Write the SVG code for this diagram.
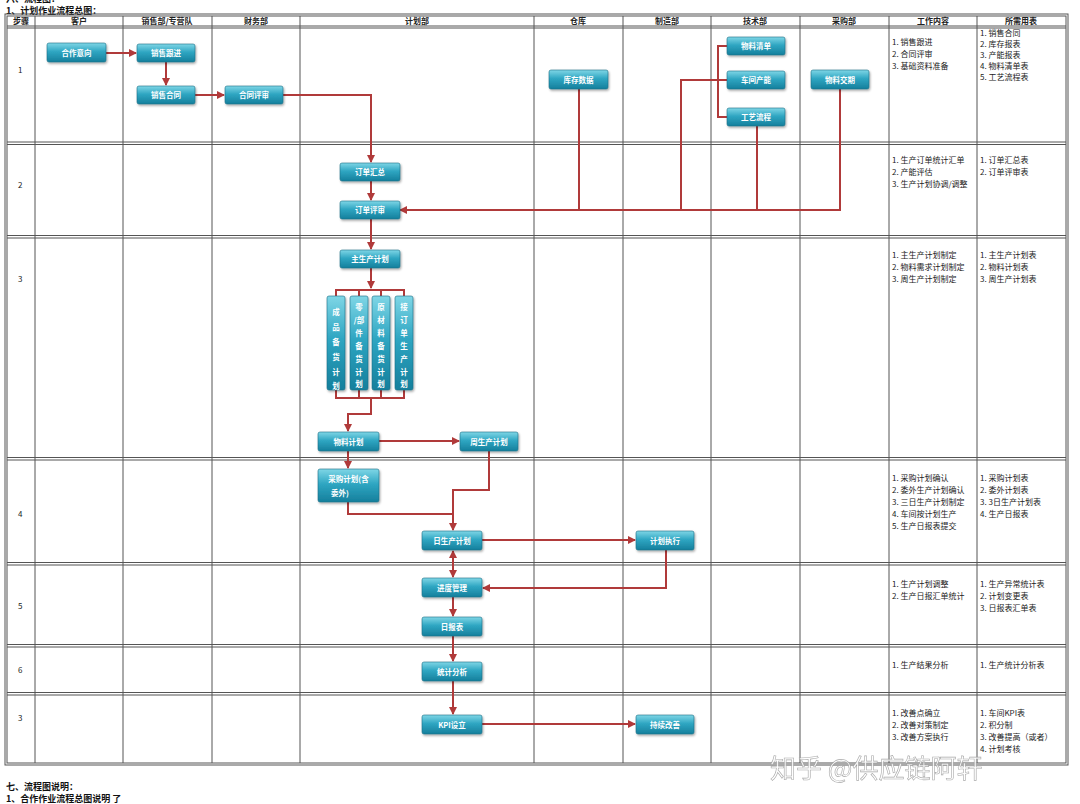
<svg xmlns="http://www.w3.org/2000/svg" width="1080" height="804" viewBox="0 0 1080 804">
<defs>
<linearGradient id="g" x1="0" y1="0" x2="0" y2="1">
<stop offset="0" stop-color="#7fd6e6"/>
<stop offset="0.45" stop-color="#2fa6c2"/>
<stop offset="1" stop-color="#157f9c"/>
</linearGradient>
<marker id="a" markerWidth="8" markerHeight="8" refX="7" refY="4" orient="auto" markerUnits="userSpaceOnUse">
<path d="M0,0 L8,4 L0,8 z" fill="#b03a3a"/>
</marker>
<marker id="as" markerWidth="8" markerHeight="8" refX="7" refY="4" orient="auto-start-reverse" markerUnits="userSpaceOnUse">
<path d="M0,0 L8,4 L0,8 z" fill="#b03a3a"/>
</marker>
<filter id="sh" x="-10%" y="-10%" width="130%" height="140%">
<feDropShadow dx="1" dy="1.5" stdDeviation="1" flood-color="#000" flood-opacity="0.35"/>
</filter>
</defs>
<style>
text{font-family:"Noto Sans CJK SC","Liberation Sans",sans-serif;}
.t{font-size:8px;fill:#222;}
.h{font-size:8px;font-weight:bold;fill:#222;text-anchor:middle;}
.n rect{fill:url(#g);stroke:#1b6f86;stroke-width:0.6;filter:url(#sh);}
.n text{font-size:7.5px;fill:#fff;text-anchor:middle;font-weight:bold;}
.c path,.c line{stroke:#b03a3a;stroke-width:2;fill:none;}
.grid line{stroke:#555;stroke-width:1;}
.ti{font-size:9px;font-weight:bold;fill:#111;}
</style>
<rect width="1080" height="804" fill="#fff"/>
<text class="ti" x="6" y="2" font-size="5">六、流程图：</text>
<text class="ti" x="6" y="13.5" font-size="8.5">1、计划作业流程总图：</text>
<g class="grid">
<rect x="5" y="14" width="1063" height="751" fill="none" stroke="#555" stroke-width="1"/>
<rect x="7" y="16" width="1059" height="747" fill="none" stroke="#555" stroke-width="1"/>
<line x1="35" y1="16" x2="35" y2="763"/>
<line x1="123" y1="16" x2="123" y2="763"/>
<line x1="212" y1="16" x2="212" y2="763"/>
<line x1="300" y1="16" x2="300" y2="763"/>
<line x1="534" y1="16" x2="534" y2="763"/>
<line x1="623" y1="16" x2="623" y2="763"/>
<line x1="711" y1="16" x2="711" y2="763"/>
<line x1="800" y1="16" x2="800" y2="763"/>
<line x1="889" y1="16" x2="889" y2="763"/>
<line x1="977" y1="16" x2="977" y2="763"/>
<line x1="7" y1="26" x2="1066" y2="26"/>
<line x1="7" y1="28" x2="1066" y2="28"/>
<line x1="7" y1="142" x2="1066" y2="142"/>
<line x1="7" y1="144.5" x2="1066" y2="144.5"/>
<line x1="7" y1="235.5" x2="1066" y2="235.5"/>
<line x1="7" y1="238" x2="1066" y2="238"/>
<line x1="7" y1="457.5" x2="1066" y2="457.5"/>
<line x1="7" y1="460" x2="1066" y2="460"/>
<line x1="7" y1="562.5" x2="1066" y2="562.5"/>
<line x1="7" y1="565" x2="1066" y2="565"/>
<line x1="7" y1="644.5" x2="1066" y2="644.5"/>
<line x1="7" y1="647" x2="1066" y2="647"/>
<line x1="7" y1="692.5" x2="1066" y2="692.5"/>
<line x1="7" y1="695" x2="1066" y2="695"/>
</g>
<g id="header">
<text class="h" x="21" y="24">步骤</text>
<text class="h" x="79" y="24">客户</text>
<text class="h" x="167" y="24">销售部/专营队</text>
<text class="h" x="256" y="24">财务部</text>
<text class="h" x="417" y="24">计划部</text>
<text class="h" x="578" y="24">仓库</text>
<text class="h" x="667" y="24">制造部</text>
<text class="h" x="755" y="24">技术部</text>
<text class="h" x="844" y="24">采购部</text>
<text class="h" x="933" y="24">工作内容</text>
<text class="h" x="1021" y="24">所需用表</text>
</g>
<g id="steps" class="t">
<text x="18" y="73">1</text>
<text x="18" y="188">2</text>
<text x="18" y="282">3</text>
<text x="18" y="517">4</text>
<text x="18" y="609">5</text>
<text x="18" y="673">6</text>
<text x="18" y="721">3</text>
</g>
<g class="c" id="connectors">
<line x1="106" y1="53" x2="136" y2="53" marker-end="url(#a)"/>
<line x1="166" y1="62" x2="166" y2="85" marker-end="url(#a)"/>
<line x1="195" y1="95" x2="224" y2="95" marker-end="url(#a)"/>
<path d="M283,95 H371 V162" marker-end="url(#a)"/>
<line x1="371" y1="181" x2="371" y2="200" marker-end="url(#a)"/>
<path d="M579,89 V210"/>
<path d="M727,80 H681 V210"/>
<path d="M727,46 H718 V117 H727"/>
<path d="M757,126 V210"/>
<path d="M840,89 V210 H400" marker-end="url(#a)"/>
<line x1="371" y1="219" x2="371" y2="249" marker-end="url(#a)"/>
<line x1="371" y1="268" x2="371" y2="288" marker-end="url(#a)"/>
<path d="M336,296 V290 H404 V296 M359,290 V296 M381,290 V296"/>
<path d="M336,390 V398 H404 V390 M359,398 V390 M381,398 V390"/>
<path d="M371,398 V414 H348 V431" marker-end="url(#a)"/>
<line x1="379" y1="441" x2="459" y2="441" marker-end="url(#a)"/>
<line x1="348" y1="451" x2="348" y2="468" marker-end="url(#a)"/>
<path d="M489,451 V490 H453 V530" marker-end="url(#a)"/>
<path d="M348,502 V514 H453"/>
<line x1="482" y1="540" x2="635" y2="540" marker-end="url(#a)"/>
<path d="M666,550 V588 H483" marker-end="url(#a)"/>
<line x1="453" y1="551" x2="453" y2="577" marker-start="url(#as)" marker-end="url(#a)"/>
<line x1="453" y1="597" x2="453" y2="616" marker-end="url(#a)"/>
<line x1="453" y1="636" x2="453" y2="661" marker-end="url(#a)"/>
<line x1="453" y1="681" x2="453" y2="714" marker-end="url(#a)"/>
<line x1="482" y1="724" x2="635" y2="724" marker-end="url(#a)"/>
</g>
<g id="n1" class="n"><rect x="47" y="43" width="59" height="19" rx="2"/><text x="76.5" y="55.5">合作意向</text></g>
<g id="n2" class="n"><rect x="137" y="44" width="58" height="18" rx="2"/><text x="166" y="56">销售跟进</text></g>
<g id="n3" class="n"><rect x="137" y="86" width="58" height="18" rx="2"/><text x="166" y="98">销售合同</text></g>
<g id="n4" class="n"><rect x="225" y="86" width="58" height="18" rx="2"/><text x="254" y="98">合同评审</text></g>
<g id="n5" class="n"><rect x="549" y="70" width="59" height="19" rx="2"/><text x="578.5" y="82.5">库存数据</text></g>
<g id="n6" class="n"><rect x="727" y="37" width="58" height="18" rx="2"/><text x="756" y="49">物料清单</text></g>
<g id="n7" class="n"><rect x="727" y="71" width="58" height="18" rx="2"/><text x="756" y="83">车间产能</text></g>
<g id="n8" class="n"><rect x="727" y="108" width="58" height="18" rx="2"/><text x="756" y="120">工艺流程</text></g>
<g id="n9" class="n"><rect x="811" y="70" width="58" height="19" rx="2"/><text x="840" y="82.5">物料交期</text></g>
<g id="n10" class="n"><rect x="340" y="163" width="60" height="18" rx="2"/><text x="370" y="175">订单汇总</text></g>
<g id="n11" class="n"><rect x="340" y="201" width="60" height="18" rx="2"/><text x="370" y="213">订单评审</text></g>
<g id="n12" class="n"><rect x="340" y="250" width="60" height="18" rx="2"/><text x="370" y="262">主生产计划</text></g>
<g id="n13" class="n"><rect x="327" y="296" width="18" height="94" rx="2"/><text x="336" y="315">成</text><text x="336" y="330">品</text><text x="336" y="345">备</text><text x="336" y="360">货</text><text x="336" y="375">计</text><text x="336" y="389">划</text></g>
<g id="n14" class="n"><rect x="350" y="296" width="18" height="94" rx="2"/><text x="359" y="310">零</text><text x="359" y="323">/部</text><text x="359" y="336">件</text><text x="359" y="349">备</text><text x="359" y="362">货</text><text x="359" y="375">计</text><text x="359" y="387">划</text></g>
<g id="n15" class="n"><rect x="372" y="296" width="18" height="94" rx="2"/><text x="381" y="310">原</text><text x="381" y="323">材</text><text x="381" y="336">料</text><text x="381" y="349">备</text><text x="381" y="362">货</text><text x="381" y="375">计</text><text x="381" y="387">划</text></g>
<g id="n16" class="n"><rect x="395" y="296" width="18" height="94" rx="2"/><text x="404" y="310">接</text><text x="404" y="323">订</text><text x="404" y="336">单</text><text x="404" y="349">生</text><text x="404" y="362">产</text><text x="404" y="375">计</text><text x="404" y="387">划</text></g>
<g id="n17" class="n"><rect x="318" y="432" width="61" height="19" rx="2"/><text x="348.5" y="444.5">物料计划</text></g>
<g id="n18" class="n"><rect x="460" y="432" width="58" height="19" rx="2"/><text x="489" y="444.5">周生产计划</text></g>
<g id="n19" class="n"><rect x="318" y="469" width="61" height="33" rx="2"/><text x="348.5" y="482">采购计划(含</text><text x="340" y="496">委外)</text></g>
<g id="n20" class="n"><rect x="422" y="531" width="60" height="19" rx="2"/><text x="452" y="543.5">日生产计划</text></g>
<g id="n21" class="n"><rect x="636" y="531" width="58" height="19" rx="2"/><text x="665" y="543.5">计划执行</text></g>
<g id="n22" class="n"><rect x="422" y="578" width="60" height="19" rx="2"/><text x="452" y="590.5">进度管理</text></g>
<g id="n23" class="n"><rect x="422" y="617" width="60" height="19" rx="2"/><text x="452" y="629.5">日报表</text></g>
<g id="n24" class="n"><rect x="422" y="662" width="60" height="19" rx="2"/><text x="452" y="674.5">统计分析</text></g>
<g id="n25" class="n"><rect x="422" y="715" width="60" height="19" rx="2"/><text x="452" y="727.5">KPI设立</text></g>
<g id="n26" class="n"><rect x="636" y="715" width="58" height="19" rx="2"/><text x="665" y="727.5">持续改善</text></g>
<g id="work" class="t">
<text x="892" y="45">1. 销售跟进</text><text x="892" y="57">2. 合同评审</text><text x="892" y="69">3. 基础资料准备</text>
<text x="980" y="36">1. 销售合同</text><text x="980" y="47">2. 库存报表</text><text x="980" y="58">3. 产能报表</text><text x="980" y="69">4. 物料清单表</text><text x="980" y="80">5. 工艺流程表</text>
<text x="892" y="163">1. 生产订单统计汇单</text><text x="892" y="175">2. 产能评估</text><text x="892" y="187">3. 生产计划协调/调整</text>
<text x="980" y="163">1. 订单汇总表</text><text x="980" y="175">2. 订单评审表</text>
<text x="892" y="258">1. 主生产计划制定</text><text x="892" y="270">2. 物料需求计划制定</text><text x="892" y="282">3. 周生产计划制定</text>
<text x="980" y="258">1. 主生产计划表</text><text x="980" y="270">2. 物料计划表</text><text x="980" y="282">3. 周生产计划表</text>
<text x="892" y="481">1. 采购计划确认</text><text x="892" y="493">2. 委外生产计划确认</text><text x="892" y="505">3. 三日生产计划制定</text><text x="892" y="517">4. 车间按计划生产</text><text x="892" y="529">5. 生产日报表提交</text>
<text x="980" y="481">1. 采购计划表</text><text x="980" y="493">2. 委外计划表</text><text x="980" y="505">3. 3日生产计划表</text><text x="980" y="517">4. 生产日报表</text>
<text x="892" y="587">1. 生产计划调整</text><text x="892" y="599">2. 生产日报汇单统计</text>
<text x="980" y="587">1. 生产异常统计表</text><text x="980" y="599">2. 计划变更表</text><text x="980" y="611">3. 日报表汇单表</text>
<text x="892" y="668">1. 生产结果分析</text>
<text x="980" y="668">1. 生产统计分析表</text>
<text x="892" y="716">1. 改善点确立</text><text x="892" y="728">2. 改善对策制定</text><text x="892" y="740">3. 改善方案执行</text>
<text x="980" y="716">1. 车间KPI表</text><text x="980" y="728">2. 积分制</text><text x="980" y="740">3. 改善提高（或者）</text><text x="980" y="752">4. 计划考核</text>
</g>
<text class="ti" x="6" y="790">七、流程图说明：</text>
<text class="ti" x="6" y="802" font-size="7.5">1、合作作业流程总图说明         了</text>
<text x="770" y="778" font-size="26" fill="#fff" stroke="#999" stroke-width="0.6" opacity="0.85">知乎 @供应链阿轩</text>
</svg>
